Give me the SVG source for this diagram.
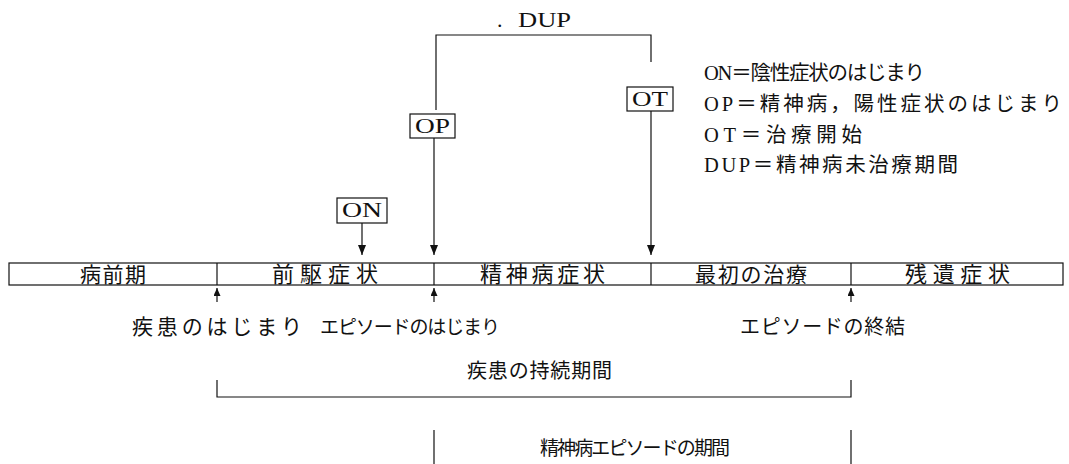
<svg xmlns="http://www.w3.org/2000/svg" width="1069" height="464" viewBox="0 0 1069 464">
<defs>
<marker id="ah" markerUnits="userSpaceOnUse" markerWidth="10" markerHeight="8" refX="10" refY="4" orient="auto" viewBox="0 0 10 8">
<path d="M0,0 L10,4 L0,8 Z" fill="#111"/>
</marker>
<marker id="au" markerUnits="userSpaceOnUse" markerWidth="8" markerHeight="7" refX="8" refY="3.5" orient="auto" viewBox="0 0 8 7">
<path d="M0,0 L8,3.5 L0,7 Z" fill="#111"/>
</marker>
</defs>
<style>
.ln{stroke:#111;stroke-width:1.2;fill:none}
.bx{stroke:#111;stroke-width:1.2;fill:#fff}
.lat{font-family:"Liberation Serif","Noto Sans CJK JP",serif;fill:#111}
.jp{font-family:"Noto Sans CJK JP","Liberation Sans",sans-serif;fill:#111}
.lg{font-family:"Liberation Serif","Noto Sans CJK JP",serif;font-size:20.5px;fill:#111}
</style>
<rect width="1069" height="464" fill="#fff"/>

<g id="dup">
<text class="lat" x="497" y="27" font-size="22">.<tspan x="518" textLength="53" lengthAdjust="spacingAndGlyphs">DUP</tspan></text>
</g>

<g id="node-OT">
<rect class="bx" x="627" y="87" width="46" height="24"/>
<text class="lat" x="632" y="106" font-size="22" textLength="36" lengthAdjust="spacingAndGlyphs">OT</text>
</g>
<g id="node-OP">
<rect class="bx" x="410" y="114" width="45" height="24"/>
<text class="lat" x="415" y="133" font-size="22" textLength="35" lengthAdjust="spacingAndGlyphs">OP</text>
</g>
<g id="node-ON">
<rect class="bx" x="337" y="198" width="50" height="25"/>
<text class="lat" x="342" y="217" font-size="22" textLength="40" lengthAdjust="spacingAndGlyphs">ON</text>
</g>

<g id="legend">
<text class="lg" x="704" y="80" textLength="221">ON＝陰性症状のはじまり</text>
<text class="lg" x="704" y="111" textLength="358">OP＝精神病，陽性症状のはじまり</text>
<text class="lg" x="704" y="142" textLength="158">OT＝治療開始</text>
<text class="lg" x="704" y="172" textLength="254">DUP＝精神病未治療期間</text>
</g>

<g id="timeline">
<rect class="ln" x="9" y="263" width="1054" height="22"/>
<line class="ln" x1="217" y1="263" x2="217" y2="285"/>
<line class="ln" x1="434" y1="263" x2="434" y2="285"/>
<line class="ln" x1="651" y1="263" x2="651" y2="285"/>
<line class="ln" x1="851" y1="263" x2="851" y2="285"/>
<text class="jp" x="80" y="282" font-size="21" textLength="66">病前期</text>
<text class="jp" x="272" y="282" font-size="22" textLength="106">前駆症状</text>
<text class="jp" x="480" y="282" font-size="22" textLength="125">精神病症状</text>
<text class="jp" x="695" y="282" font-size="21" textLength="112">最初の治療</text>
<text class="jp" x="905" y="282" font-size="22" textLength="105">残遺症状</text>
</g>

<g id="labels">
<text class="jp" x="132" y="334" font-size="21" textLength="170">疾患のはじまり</text>
<text class="jp" x="320" y="334" font-size="19" textLength="180">エピソードのはじまり</text>
<text class="jp" x="740" y="334" font-size="20" textLength="165">エピソードの終結</text>
<text class="jp" x="467" y="378" font-size="20" textLength="145">疾患の持続期間</text>
<text class="jp" x="540" y="455" font-size="19" textLength="190">精神病エピソードの期間</text>
</g>

<g id="connectors">
<path class="ln" d="M436,110 V35 H651 V62"/>
<line class="ln" x1="434" y1="138" x2="434" y2="255" marker-end="url(#ah)"/>
<line class="ln" x1="651" y1="111" x2="651" y2="255" marker-end="url(#ah)"/>
<line class="ln" x1="362" y1="223" x2="362" y2="255" marker-end="url(#ah)"/>
<line class="ln" x1="217" y1="302" x2="217" y2="288" marker-end="url(#au)"/>
<line class="ln" x1="434" y1="302" x2="434" y2="288" marker-end="url(#au)"/>
<line class="ln" x1="851" y1="302" x2="851" y2="288" marker-end="url(#au)"/>
<path class="ln" d="M217,380 V397 H851 V380"/>
<path class="ln" d="M434,430 V464"/>
<path class="ln" d="M851,430 V464"/>
</g>
</svg>
